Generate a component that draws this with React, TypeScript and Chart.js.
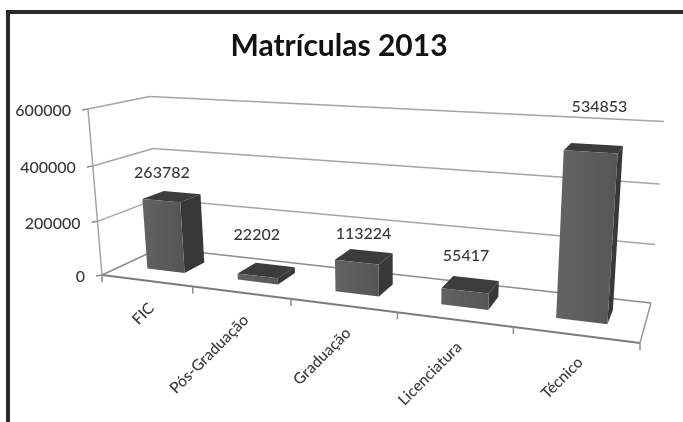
import { useEffect, useRef } from "react";
import { Chart, registerables } from "chart.js";

Chart.register(...registerables);

const categories = ["FIC", "Pós-Graduação", "Graduação", "Licenciatura", "Técnico"];
const enrolments = [263782, 22202, 113224, 55417, 534853];
const yTicks = [0, 200000, 400000, 600000];
const yMax = 600000;

// Pixel nudges that lift each value label clear of its column.
const valueLabelNudgeX = [-9, -9, 0, -4, 6];
const valueLabelNudgeY = [-24, -36, -23, -29, -42];

const BODY_FONT = 'Lato, "Open Sans", sans-serif';

// Perspective box: unit cube (u along categories, v up, w into the page) to canvas.
const O = [102, 275];
const U = [640, 343];
const V = [88, 109];
const W = [160, 248];
const G = -0.188;
const H = -0.045;
const I = 0.1;

function project(u: number, v: number, w: number): [number, number] {
  const d = 1 + G * u + H * v + I * w;
  const axis = (k: number) =>
    (u * (U[k] * (1 + G) - O[k]) + v * (V[k] * (1 + H) - O[k]) + w * (W[k] * (1 + I) - O[k]) + O[k]) / d;
  return [axis(0), axis(1)];
}

type Ctx = CanvasRenderingContext2D;

function segment(ctx: Ctx, a: [number, number], b: [number, number], color: string, width: number) {
  ctx.strokeStyle = color;
  ctx.lineWidth = width;
  ctx.beginPath();
  ctx.moveTo(a[0], a[1]);
  ctx.lineTo(b[0], b[1]);
  ctx.stroke();
}

function face(ctx: Ctx, pts: [number, number][], fill: string | CanvasGradient) {
  ctx.fillStyle = fill;
  ctx.beginPath();
  pts.forEach((p, i) => (i ? ctx.lineTo(p[0], p[1]) : ctx.moveTo(p[0], p[1])));
  ctx.closePath();
  ctx.fill();
}

const box3d = {
  id: "box3d",
  beforeDatasetsDraw(chart: any) {
    const ctx: Ctx = chart.ctx;
    const y = chart.scales.y;
    ctx.save();

    // Frame round the figure: top and left only.
    ctx.fillStyle = "#2a2a2a";
    ctx.fillRect(6, 10, 677, 4);
    ctx.fillRect(6, 10, 4, 412);

    // Gridlines run along the left wall, then the back wall.
    y.ticks.forEach((t: any) => {
      const v = t.value / yMax;
      const line = t.value === 0 ? "#8c8c8c" : "#a4a4a4";
      segment(ctx, project(0, v, 0), project(0, v, 1), line, 1.5);
      segment(ctx, project(0, v, 1), project(1, v, 1), line, 1.5);
      const front = project(0, v, 0);
      segment(ctx, front, [front[0] - 6, front[1] + 1], "#8c8c8c", 1.5);
      ctx.fillStyle = "#383838";
      ctx.font = `500 16px ${BODY_FONT}`;
      ctx.textAlign = "right";
      ctx.textBaseline = "middle";
      ctx.fillText(String(t.value), front[0] - 17, front[1] + 2);
    });

    // Floor outline and the upright axis.
    segment(ctx, project(0, 0, 0), project(0, 1, 0), "#a4a4a4", 1.5);
    segment(ctx, project(0, 0, 0), project(1, 0, 0), "#7c7c7c", 2);
    segment(ctx, project(1, 0, 0), project(1, 0, 1), "#9a9a9a", 1.5);

    // Category ticks and slanted names along the front floor edge.
    const n = chart.data.labels.length;
    for (let i = 0; i <= n; i++) {
      const p = project(i / n, 0, 0);
      segment(ctx, p, [p[0], p[1] + 7], "#8c8c8c", 1.5);
    }
    chart.data.labels.forEach((name: string, i: number) => {
      const p = project((i + 0.5) / n, 0, 0);
      ctx.save();
      ctx.translate(p[0] + 5, p[1] + 25);
      ctx.rotate(-Math.PI / 4);
      ctx.fillStyle = "#383838";
      ctx.font = `500 15.5px ${BODY_FONT}`;
      ctx.textAlign = "right";
      ctx.textBaseline = "middle";
      ctx.fillText(name, 0, 0);
      ctx.restore();
    });
    ctx.restore();
  },
  afterDatasetsDraw(chart: any) {
    const ctx: Ctx = chart.ctx;
    const y = chart.scales.y;
    const { left, width } = chart.chartArea;
    const meta = chart.getDatasetMeta(0);
    const w0 = 0.33;
    const w1 = 0.7;
    ctx.save();
    meta.data.forEach((bar: any, i: number) => {
      const u0 = (bar.x - bar.width / 2 - left) / width;
      const u1 = (bar.x + bar.width / 2 - left) / width;
      const value = chart.data.datasets[0].data[i];
      const v = y.getValueForPixel(bar.y) / yMax;

      // Right side, then top, then the lit front face.
      face(ctx, [project(u1, 0, w0), project(u1, 0, w1), project(u1, v, w1), project(u1, v, w0)], "#383838");
      face(ctx, [project(u0, v, w0), project(u1, v, w0), project(u1, v, w1), project(u0, v, w1)], "#3c3c3c");
      const fl = project(u0, v, w0);
      const fr = project(u1, v, w0);
      const grad = ctx.createLinearGradient(fl[0], 0, fr[0], 0);
      grad.addColorStop(0, "#626262");
      grad.addColorStop(1, "#565656");
      face(ctx, [project(u0, 0, w0), project(u1, 0, w0), fr, fl], grad);

      const c = project((u0 + u1) / 2, v, 0.5);
      ctx.fillStyle = "#383838";
      ctx.font = `500 16px ${BODY_FONT}`;
      ctx.textAlign = "center";
      ctx.textBaseline = "middle";
      ctx.fillText(String(value), c[0] + valueLabelNudgeX[i], c[1] + valueLabelNudgeY[i]);
    });
    ctx.restore();
  },
};

export default function App() {
  const ref = useRef<HTMLCanvasElement | null>(null);
  useEffect(() => {
    const chart = new Chart(ref.current!, {
      type: "bar",
      data: {
        labels: categories,
        datasets: [{ data: enrolments, backgroundColor: "transparent", barPercentage: 0.42, categoryPercentage: 1 }],
      },
      options: {
        animation: false,
        responsive: false,
        layout: { padding: { right: 5 } },
        plugins: {
          legend: { display: false },
          tooltip: { enabled: false },
          title: {
            display: true,
            text: "Matrículas 2013",
            color: "#111111",
            font: { family: BODY_FONT, size: 30, weight: "bold" },
            padding: { top: 28, bottom: 6 },
          },
        },
        scales: {
          x: { display: false },
          y: {
            display: false,
            min: 0,
            max: yMax,
            afterBuildTicks: (scale: any) => {
              scale.ticks = yTicks.map((value) => ({ value }));
            },
          },
        },
      },
      plugins: [box3d],
    } as any);
    return () => chart.destroy();
  }, []);
  return (
    <div style={{ position: "absolute", left: 0, top: 0, width: 683, height: 422, background: "#ffffff" }}>
      <canvas ref={ref} width={683} height={422} style={{ display: "block" }} />
    </div>
  );
}
